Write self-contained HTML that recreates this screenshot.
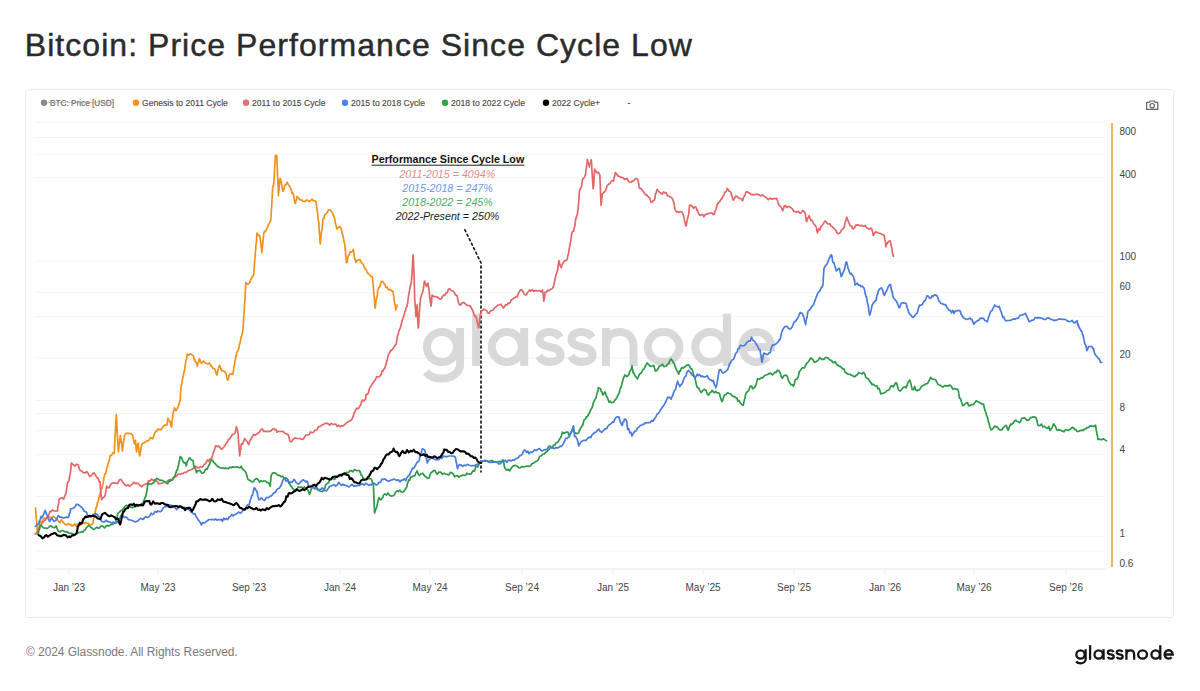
<!DOCTYPE html>
<html><head><meta charset="utf-8"><style>
html,body{margin:0;padding:0;background:#fff;width:1200px;height:691px;overflow:hidden}
svg{display:block;font-family:"Liberation Sans",sans-serif}
.grid line{stroke:#f3f3f3;stroke-width:1}
.xl text{font-size:10px;fill:#444}
.yl text{font-size:10px;fill:#444}
.lg text{font-size:8.6px;fill:#4a4a4a;stroke:#4a4a4a;stroke-width:0.15}
.tick{stroke:#efefef;stroke-width:1}
.ln{fill:none;stroke-linejoin:round;stroke-linecap:round}
</style></head><body>
<svg width="1200" height="691" viewBox="0 0 1200 691">
<text x="24.8" y="56.4" font-size="32" fill="#2b2b2b" stroke="#2b2b2b" stroke-width="0.45" letter-spacing="1.045">Bitcoin: Price Performance Since Cycle Low</text>
<rect x="25.5" y="89.5" width="1148" height="528" rx="3" fill="#fff" stroke="#e9e9e9" stroke-width="1"/>
<g class="lg"><circle cx="44" cy="102.8" r="3.2" fill="#8a8a8a"/><text x="50" y="105.8" textLength="64" lengthAdjust="spacingAndGlyphs" style="fill:#6a6a6a;stroke:#6a6a6a">BTC: Price [USD]</text><line x1="47" y1="102.6" x2="114" y2="102.6" stroke="#9a9a9a" stroke-width="0.6"/><circle cx="136" cy="102.8" r="3.2" fill="#f5931e"/><text x="142" y="105.8">Genesis to 2011 Cycle</text><circle cx="246" cy="102.8" r="3.2" fill="#ec6e6e"/><text x="252" y="105.8">2011 to 2015 Cycle</text><circle cx="345" cy="102.8" r="3.2" fill="#4a86e8"/><text x="351" y="105.8">2015 to 2018 Cycle</text><circle cx="445" cy="102.8" r="3.2" fill="#2ea84a"/><text x="451" y="105.8">2018 to 2022 Cycle</text><circle cx="546" cy="102.8" r="3.2" fill="#000000"/><text x="552" y="105.8">2022 Cycle+</text><text x="627.5" y="105.5">-</text></g>
<g fill="none" stroke="#666" stroke-width="1.2" stroke-linejoin="round">
<path d="M1146.6,102.4 L1149.3,102.4 L1150,101 L1154.4,101 L1155.1,102.4 L1157.8,102.4 L1157.8,109.4 L1146.6,109.4 Z"/>
<circle cx="1152.2" cy="105.7" r="2.2"/>
</g>
<g class="grid"><line x1="36" y1="122.4" x2="1104" y2="122.4" /><line x1="36" y1="137.5" x2="1104" y2="137.5" /><line x1="36" y1="154.0" x2="1104" y2="154.0" /><line x1="36" y1="177.4" x2="1104" y2="177.4" /><line x1="36" y1="261.2" x2="1104" y2="261.2" /><line x1="36" y1="292.3" x2="1104" y2="292.3" /><line x1="36" y1="316.5" x2="1104" y2="316.5" /><line x1="36" y1="358.1" x2="1104" y2="358.1" /><line x1="36" y1="400.3" x2="1104" y2="400.3" /><line x1="36" y1="413.5" x2="1104" y2="413.5" /><line x1="36" y1="430.7" x2="1104" y2="430.7" /><line x1="36" y1="454.7" x2="1104" y2="454.7" /><line x1="36" y1="496.4" x2="1104" y2="496.4" /><line x1="36" y1="536.7" x2="1104" y2="536.7" /><line x1="36" y1="551.0" x2="1104" y2="551.0" /></g>
<g fill="none" stroke="#d9d9d9" stroke-width="8">
<circle cx="441.9" cy="347" r="15"/><path d="M460.1,328 V364 A18.2,14.6 0 0 1 441.9,378.6 C435,378.6 429.5,376.5 426,372"/>
<path d="M476.1,313.7 V366"/>
<circle cx="506.8" cy="347" r="15"/><path d="M524.2,328 V366"/>
<path d="M560.2,337.5 C557.5,333.5 553,332 549.5,332 C543.5,332 539.5,335 539.5,339.5 C539.5,344.5 544,346 550,347 C556.5,348 560.6,350.5 560.6,355 C560.6,359.5 556,362 550,362 C545,362 541,359.5 538.8,356"/>
<path d="M592.2,337.5 C589.5,333.5 585,332 581.5,332 C575.5,332 571.5,335 571.5,339.5 C571.5,344.5 576,346 582,347 C588.5,348 592.6,350.5 592.6,355 C592.6,359.5 588,362 582,362 C577,362 573,359.5 570.8,356"/>
<path d="M605.9,328 V366 M605.9,347 C605.9,337 612,332 619.7,332 C627.5,332 633.5,337 633.5,347 V366"/>
<ellipse cx="663.6" cy="347" rx="15.8" ry="15"/>
<circle cx="710.3" cy="347" r="15"/><path d="M726.9,313.7 V366"/>
<path d="M742.8,347 H771.2 A14.5,15 0 1 0 767.5,357"/>
</g>
<line x1="36" y1="569" x2="1107" y2="569" stroke="#e6e6e6" stroke-width="1"/>
<g class="xl"><text x="69" y="590.5" text-anchor="middle">Jan &#8217;23</text><line x1="69" y1="569" x2="69" y2="575" class="tick"/><text x="158" y="590.5" text-anchor="middle">May &#8217;23</text><line x1="158" y1="569" x2="158" y2="575" class="tick"/><text x="249" y="590.5" text-anchor="middle">Sep &#8217;23</text><line x1="249" y1="569" x2="249" y2="575" class="tick"/><text x="340" y="590.5" text-anchor="middle">Jan &#8217;24</text><line x1="340" y1="569" x2="340" y2="575" class="tick"/><text x="430" y="590.5" text-anchor="middle">May &#8217;24</text><line x1="430" y1="569" x2="430" y2="575" class="tick"/><text x="522" y="590.5" text-anchor="middle">Sep &#8217;24</text><line x1="522" y1="569" x2="522" y2="575" class="tick"/><text x="613" y="590.5" text-anchor="middle">Jan &#8217;25</text><line x1="613" y1="569" x2="613" y2="575" class="tick"/><text x="703" y="590.5" text-anchor="middle">May &#8217;25</text><line x1="703" y1="569" x2="703" y2="575" class="tick"/><text x="794" y="590.5" text-anchor="middle">Sep &#8217;25</text><line x1="794" y1="569" x2="794" y2="575" class="tick"/><text x="885" y="590.5" text-anchor="middle">Jan &#8217;26</text><line x1="885" y1="569" x2="885" y2="575" class="tick"/><text x="974" y="590.5" text-anchor="middle">May &#8217;26</text><line x1="974" y1="569" x2="974" y2="575" class="tick"/><text x="1066" y="590.5" text-anchor="middle">Sep &#8217;26</text><line x1="1066" y1="569" x2="1066" y2="575" class="tick"/></g>
<line x1="1112" y1="123" x2="1112" y2="567" stroke="#e8a33a" stroke-width="1.6"/>
<g class="yl"><text x="1119.5" y="135.3">800</text><text x="1119.5" y="177.5">400</text><text x="1119.5" y="259.5">100</text><text x="1119.5" y="290.3">60</text><text x="1119.5" y="357.5">20</text><text x="1119.5" y="411.4">8</text><text x="1119.5" y="453.0">4</text><text x="1119.5" y="536.9">1</text><text x="1119.5" y="567.0">0.6</text></g>
<path class="ln" d="M464.9,229.8 L481,262.8 L481,472" stroke="#111" stroke-width="1.6" stroke-dasharray="2,3"/>
<path class="ln" d="M35.4,508.0 L35.6,508.6 L35.8,511.2 L36.0,514.6 L36.2,516.6 L36.3,518.9 L36.5,519.7 L36.7,522.2 L36.9,524.5 L37.1,527.9 L37.2,530.1 L37.4,532.1 L37.6,533.9 L38.1,531.0 L38.5,529.5 L39.0,529.0 L39.4,524.8 L39.9,520.8 L40.3,522.1 L41.6,522.2 L42.8,520.7 L44.1,518.1 L45.6,518.1 L47.2,517.6 L48.7,516.6 L50.2,517.7 L51.7,517.7 L53.1,516.4 L54.4,517.3 L55.8,518.1 L57.1,519.5 L58.5,521.6 L59.9,522.7 L61.2,519.5 L62.6,521.9 L63.9,523.2 L65.3,524.6 L66.6,525.0 L68.0,523.5 L69.4,524.4 L70.7,524.6 L72.1,526.1 L73.4,525.2 L74.8,524.0 L76.1,526.0 L77.5,524.1 L78.9,524.6 L80.2,525.3 L81.6,524.3 L82.9,522.2 L84.3,523.7 L85.6,522.4 L87.0,523.1 L88.4,523.5 L89.7,524.6 L91.3,524.8 L93.0,523.7 L93.3,520.5 L93.7,517.7 L94.1,515.8 L94.5,515.1 L95.0,513.4 L95.5,510.5 L96.0,507.6 L96.5,507.8 L97.0,504.8 L97.5,502.6 L98.0,502.4 L98.5,500.1 L99.0,497.3 L99.4,496.4 L99.9,494.0 L100.4,493.4 L100.9,490.8 L101.4,487.9 L101.9,488.7 L102.4,487.1 L102.9,484.3 L103.4,481.8 L103.8,478.4 L104.3,476.4 L104.8,473.9 L105.3,473.7 L105.8,473.1 L106.3,470.5 L106.8,468.0 L107.3,466.7 L107.8,464.8 L108.2,463.5 L108.7,461.9 L109.2,460.1 L109.7,458.5 L110.2,455.5 L111.5,455.4 L112.9,452.6 L114.2,453.4 L114.4,450.8 L114.5,449.3 L114.6,447.0 L114.7,445.2 L114.8,441.3 L114.9,439.4 L115.0,437.1 L115.1,436.0 L115.3,434.2 L115.4,431.7 L115.5,429.3 L115.6,426.8 L115.7,425.0 L115.8,423.6 L115.9,422.1 L116.0,419.6 L116.2,416.3 L116.3,414.7 L116.4,417.2 L116.5,418.3 L116.6,420.6 L116.8,420.9 L116.9,425.1 L117.0,427.6 L117.1,429.3 L117.2,431.5 L117.3,434.5 L117.5,436.5 L117.6,438.8 L117.7,440.9 L117.8,441.8 L117.9,442.8 L118.1,446.9 L118.2,448.6 L118.3,451.8 L118.6,450.9 L118.8,447.8 L119.1,445.0 L119.3,442.6 L119.6,442.5 L119.8,440.0 L120.1,437.4 L120.3,435.6 L120.6,436.9 L120.8,438.6 L121.1,440.4 L121.3,442.8 L121.6,443.9 L121.8,446.0 L122.1,448.8 L122.4,451.2 L122.6,447.8 L122.9,446.9 L123.1,444.2 L123.4,442.5 L123.6,441.6 L123.9,439.6 L124.1,439.1 L124.4,435.6 L125.9,433.3 L127.4,433.3 L128.9,433.4 L130.5,433.5 L132.5,435.1 L133.0,436.7 L133.5,440.0 L134.0,442.0 L134.5,443.9 L135.5,440.4 L135.7,443.1 L135.9,445.1 L136.1,448.7 L136.3,449.3 L136.5,451.9 L136.9,450.3 L137.2,448.0 L137.6,445.1 L138.0,443.1 L138.2,443.4 L138.5,446.6 L138.8,448.1 L139.0,451.8 L139.3,454.1 L139.6,455.8 L140.0,455.0 L140.4,452.3 L140.8,450.7 L141.2,447.2 L141.9,444.5 L142.6,443.6 L144.6,442.5 L146.7,440.9 L148.7,440.7 L149.7,438.6 L150.7,437.7 L152.7,438.6 L153.4,436.9 L154.1,435.0 L154.8,433.1 L155.8,431.2 L156.8,431.0 L157.8,429.1 L159.3,429.4 L160.8,430.0 L161.9,428.1 L162.9,427.1 L163.9,425.4 L165.4,425.2 L166.9,425.0 L167.2,423.1 L167.4,421.9 L167.7,420.2 L167.9,418.0 L169.0,421.0 L170.0,421.3 L170.5,423.2 L171.0,426.2 L171.6,427.1 L171.8,424.9 L172.0,421.5 L172.2,420.0 L172.4,419.2 L172.6,418.1 L172.8,416.2 L173.0,413.5 L173.5,411.2 L174.0,410.6 L174.4,407.8 L175.2,408.9 L176.0,410.7 L176.7,409.4 L177.4,408.4 L178.1,406.5 L178.7,405.4 L179.4,402.3 L180.1,400.7 L180.3,399.4 L180.4,396.7 L180.6,392.5 L180.8,390.6 L180.9,389.3 L181.1,386.8 L181.5,385.3 L181.9,383.5 L182.3,381.1 L182.7,377.9 L183.1,376.5 L183.5,375.1 L183.8,372.3 L184.2,371.4 L184.5,370.8 L184.8,368.5 L185.2,364.9 L185.6,363.3 L186.0,360.1 L186.4,359.6 L186.8,356.7 L187.2,354.2 L188.7,355.2 L190.2,353.8 L191.7,354.8 L193.3,355.5 L193.8,357.7 L194.3,360.0 L194.8,359.5 L195.3,362.0 L196.3,362.3 L197.3,366.2 L197.8,363.3 L198.3,362.2 L198.8,362.0 L199.3,358.8 L200.0,360.0 L200.7,361.7 L201.4,363.5 L203.4,361.0 L204.9,362.7 L206.4,363.6 L208.0,363.9 L209.5,362.9 L210.5,365.1 L211.5,366.0 L213.0,368.5 L214.5,368.5 L215.2,370.5 L215.9,372.5 L216.6,374.8 L217.2,374.8 L217.8,370.7 L218.4,369.0 L219.0,366.6 L219.6,365.4 L220.6,367.9 L221.6,370.8 L222.6,370.4 L224.2,371.4 L225.7,372.9 L226.2,374.3 L226.7,376.7 L227.2,378.7 L227.7,380.2 L228.4,379.4 L229.1,375.0 L229.7,374.1 L231.3,373.7 L232.8,374.4 L233.1,371.8 L233.5,371.2 L233.8,367.8 L234.1,366.2 L234.5,365.2 L234.8,362.0 L235.2,359.8 L235.6,357.8 L236.0,355.4 L236.4,355.8 L236.8,352.3 L237.8,351.0 L238.9,348.1 L239.3,345.1 L239.7,343.7 L240.1,342.9 L240.5,340.4 L240.9,338.3 L241.4,336.3 L241.9,335.2 L242.4,332.8 L242.9,330.2 L243.0,328.9 L243.2,326.7 L243.3,324.2 L243.5,321.5 L243.6,319.5 L243.7,316.9 L243.9,316.1 L244.0,313.4 L244.2,311.8 L244.3,308.7 L244.4,307.0 L244.6,303.2 L244.7,301.0 L244.9,300.5 L245.0,298.4 L245.1,294.1 L245.3,292.3 L245.4,290.5 L245.6,288.1 L245.7,285.1 L245.8,282.6 L246.0,283.0 L248.2,284.2 L249.1,283.2 L250.0,281.9 L250.9,279.2 L251.8,277.8 L252.8,276.3 L253.7,274.4 L253.8,272.2 L254.0,270.3 L254.2,268.5 L254.3,266.1 L254.5,263.7 L254.6,261.9 L254.8,259.1 L255.0,258.4 L255.1,256.5 L255.3,254.2 L255.4,251.8 L255.6,250.0 L255.8,247.8 L255.9,245.0 L256.1,243.5 L256.3,242.7 L256.5,241.5 L256.6,238.6 L256.8,235.1 L257.0,233.1 L258.4,235.7 L259.7,235.3 L260.0,237.1 L260.3,239.4 L260.5,241.1 L260.8,243.0 L261.1,245.5 L261.4,248.1 L261.6,250.5 L261.9,252.7 L262.1,248.8 L262.4,247.9 L262.6,245.2 L262.8,243.4 L263.0,240.1 L263.2,239.2 L263.4,237.7 L263.6,235.3 L263.8,233.3 L264.7,231.1 L265.6,231.5 L266.5,229.2 L267.4,227.6 L268.2,224.9 L269.1,223.8 L269.9,222.1 L270.7,220.9 L270.8,218.9 L271.0,217.9 L271.1,216.9 L271.2,213.1 L271.4,210.3 L271.5,207.8 L271.6,206.6 L271.7,205.5 L271.9,203.3 L272.0,200.1 L272.1,197.8 L272.3,194.4 L272.4,192.3 L272.5,190.4 L272.6,188.1 L273.1,185.6 L273.6,184.5 L274.0,181.3 L274.1,179.4 L274.2,176.9 L274.4,172.9 L274.5,172.2 L274.6,169.0 L274.7,165.9 L274.8,165.0 L274.9,163.4 L275.1,161.8 L275.2,159.9 L275.3,158.6 L275.4,155.4 L276.8,155.6 L276.9,158.5 L276.9,158.9 L277.0,161.4 L277.1,164.0 L277.2,166.3 L277.3,168.2 L277.4,170.1 L277.5,173.6 L277.6,175.5 L277.6,176.3 L277.7,179.6 L277.8,181.5 L277.9,183.4 L278.0,185.2 L278.1,185.0 L278.2,185.7 L278.2,188.9 L278.3,193.2 L278.4,195.6 L278.6,192.2 L278.8,191.1 L279.0,190.2 L279.2,186.1 L279.4,183.3 L279.6,180.0 L279.8,179.0 L280.3,178.5 L280.9,180.8 L281.4,184.0 L282.0,186.6 L282.5,189.4 L283.1,191.2 L283.9,189.4 L284.7,185.7 L285.6,185.0 L286.4,183.8 L287.2,182.2 L288.2,184.5 L289.3,185.6 L290.3,187.9 L291.3,189.6 L291.9,193.1 L292.5,192.6 L293.1,193.5 L293.7,195.8 L294.3,199.4 L294.9,202.7 L295.5,203.4 L295.9,201.1 L296.4,200.2 L296.8,196.5 L298.0,197.5 L299.2,199.0 L300.4,199.9 L301.6,199.9 L302.7,201.2 L303.9,201.4 L305.1,201.7 L306.5,200.0 L307.8,200.4 L309.2,201.6 L310.6,200.5 L312.0,199.2 L313.3,200.8 L314.7,200.7 L316.1,201.8 L316.4,204.3 L316.6,206.3 L316.9,209.0 L317.2,210.8 L317.5,212.3 L317.7,214.8 L318.0,217.4 L318.3,220.5 L318.6,220.5 L318.8,222.3 L319.0,226.4 L319.1,228.0 L319.2,231.2 L319.4,232.7 L319.5,233.7 L319.7,235.1 L319.8,237.0 L319.9,240.5 L320.1,241.0 L320.2,244.0 L320.4,241.9 L320.7,240.2 L320.9,237.7 L321.1,235.4 L321.4,232.9 L321.6,231.0 L321.8,231.1 L322.0,228.9 L322.3,226.7 L322.5,225.0 L322.7,222.4 L323.0,219.2 L323.9,218.3 L324.8,214.6 L325.7,213.9 L327.1,212.9 L328.5,209.9 L329.8,210.0 L330.9,210.8 L331.9,212.0 L332.9,214.2 L334.0,216.6 L334.4,217.5 L334.9,219.9 L335.3,223.1 L335.8,224.6 L336.2,225.7 L336.7,229.0 L338.1,227.8 L339.5,226.3 L340.8,227.6 L341.3,228.7 L341.7,231.3 L342.2,233.2 L342.7,235.1 L343.1,236.2 L343.6,239.2 L344.0,241.4 L344.5,243.4 L344.9,244.7 L345.1,248.8 L345.3,249.7 L345.5,250.9 L345.6,254.0 L345.8,255.3 L346.0,257.2 L346.2,260.4 L346.3,262.6 L347.0,262.4 L347.7,258.0 L348.4,255.4 L349.1,254.9 L350.1,251.6 L351.1,252.1 L352.2,251.7 L353.2,249.5 L353.7,251.5 L354.1,254.8 L354.6,257.6 L355.0,259.6 L355.5,259.8 L355.9,262.3 L357.3,260.6 L358.7,259.9 L360.1,259.6 L361.1,262.0 L362.1,263.5 L363.2,264.3 L364.2,266.9 L365.2,268.6 L366.3,270.0 L367.3,272.7 L368.3,273.5 L369.7,274.9 L371.1,276.3 L372.4,277.2 L372.6,279.1 L372.8,281.4 L373.0,283.5 L373.2,285.6 L373.4,287.7 L373.6,291.3 L373.8,292.5 L374.0,294.1 L374.2,296.5 L374.4,299.7 L374.6,301.4 L374.8,304.1 L375.0,305.9 L375.2,308.1 L375.5,306.4 L375.8,302.5 L376.1,299.3 L376.4,299.8 L376.7,296.8 L377.0,296.7 L377.3,294.9 L377.6,291.0 L377.9,290.0 L378.8,287.8 L379.6,286.9 L380.4,284.6 L381.2,281.9 L382.1,281.3 L383.0,282.0 L384.0,283.5 L385.0,284.8 L386.0,287.4 L387.0,287.1 L388.0,289.5 L388.9,289.9 L390.3,289.3 L391.7,290.9 L393.1,291.4 L393.4,294.5 L393.7,295.7 L394.0,299.1 L394.3,301.4 L394.6,302.4 L394.9,304.7 L395.2,304.6 L395.5,307.3 L395.8,310.1 L396.3,307.7 L396.7,307.2 L397.2,305.0" stroke="#f3921a" stroke-width="1.7"/>
<path class="ln" d="M35.1,534.1 L36.0,533.3 L36.9,532.9 L37.8,530.5 L38.7,528.9 L39.8,526.5 L40.9,525.3 L41.9,523.6 L43.0,522.1 L44.1,520.9 L45.2,520.1 L46.7,518.3 L48.1,516.5 L49.1,513.9 L50.0,511.3 L51.0,511.8 L52.4,509.9 L53.9,510.7 L55.7,511.2 L57.5,510.9 L57.8,507.5 L58.1,506.1 L58.4,505.1 L58.7,503.5 L59.0,499.3 L61.2,497.9 L62.4,497.9 L63.6,499.3 L64.7,496.2 L65.6,494.4 L66.4,491.3 L66.7,488.1 L67.1,485.3 L67.5,482.5 L69.1,480.5 L69.4,477.6 L69.6,475.7 L69.9,475.1 L70.2,473.7 L70.5,471.9 L70.8,469.3 L71.0,466.7 L71.3,463.7 L71.6,463.0 L72.7,464.5 L73.8,465.1 L74.9,466.1 L76.6,464.2 L78.3,464.7 L79.1,468.3 L79.9,470.2 L81.0,470.7 L82.1,471.3 L83.3,472.7 L84.9,473.0 L86.6,471.7 L87.7,472.6 L88.8,474.9 L89.9,476.5 L91.0,475.7 L92.1,474.7 L93.2,473.0 L94.3,473.1 L95.5,475.3 L96.6,477.0 L97.4,478.0 L98.2,478.6 L99.1,481.3 L99.9,482.7 L100.1,481.9 L100.3,485.0 L100.5,489.0 L100.7,492.3 L100.9,494.7 L101.1,495.6 L101.4,497.9 L101.6,499.6 L102.7,497.8 L103.8,497.4 L104.9,496.0 L105.2,494.6 L105.6,493.0 L105.9,491.4 L106.2,489.4 L106.6,486.4 L107.8,487.6 L109.0,487.9 L110.3,485.5 L111.5,483.3 L113.2,483.1 L114.9,482.9 L116.5,483.3 L117.6,483.6 L118.8,481.2 L119.9,479.6 L121.0,479.4 L122.1,481.1 L123.2,482.8 L124.3,483.8 L125.4,485.3 L126.5,485.9 L128.2,484.8 L129.8,486.3 L131.2,484.7 L132.5,483.9 L133.8,482.2 L135.2,483.4 L136.5,483.2 L137.8,483.3 L139.2,484.4 L140.5,485.8 L141.8,486.8 L143.2,485.0 L144.5,484.5 L145.8,483.9 L147.2,484.0 L148.5,480.9 L149.8,481.3 L151.5,479.1 L153.1,480.4 L154.8,479.7 L156.1,481.2 L157.3,481.4 L158.6,483.8 L159.8,483.6 L161.5,483.5 L163.1,482.7 L164.5,482.2 L165.8,482.2 L167.1,481.1 L168.5,480.2 L169.8,479.6 L171.1,479.8 L172.5,480.1 L173.8,478.1 L175.1,476.6 L176.4,476.5 L177.8,474.4 L179.1,474.2 L180.4,474.1 L181.8,473.6 L183.1,473.5 L184.4,472.4 L185.8,472.4 L187.1,471.7 L188.4,470.7 L189.8,470.0 L191.1,469.8 L192.4,469.2 L193.8,467.8 L195.1,466.2 L196.4,466.7 L197.7,468.0 L199.1,467.7 L200.4,466.5 L201.7,467.2 L203.1,466.2 L204.2,464.4 L205.3,463.7 L206.4,462.3 L207.5,459.8 L208.6,461.4 L209.7,459.4 L210.6,458.8 L211.4,458.9 L212.2,456.9 L213.1,453.6 L213.9,451.1 L214.7,449.3 L215.6,445.9 L216.4,446.0 L217.6,446.7 L218.9,446.1 L220.1,447.4 L221.4,449.3 L222.4,448.8 L223.4,447.5 L224.4,446.5 L225.4,444.6 L226.4,443.2 L227.4,442.0 L228.4,439.4 L229.4,439.4 L230.4,437.7 L231.4,436.1 L232.5,434.6 L233.6,434.5 L234.7,433.4 L235.2,432.5 L235.8,430.0 L236.4,426.7 L236.9,428.9 L237.5,430.1 L238.0,433.3 L238.2,435.6 L238.3,438.6 L238.5,439.7 L238.6,441.7 L238.8,444.3 L238.9,445.5 L239.1,447.8 L239.2,449.9 L239.4,452.4 L239.5,453.2 L239.7,456.0 L240.0,452.1 L240.2,450.8 L240.5,448.4 L240.8,449.5 L241.1,446.0 L241.3,443.8 L242.5,444.1 L243.6,441.4 L244.7,438.6 L245.7,439.7 L246.8,441.3 L247.8,442.9 L248.7,444.5 L249.6,441.5 L250.5,439.6 L251.4,438.7 L252.3,436.5 L253.8,434.5 L255.3,435.2 L256.8,433.9 L257.9,433.2 L259.1,432.5 L260.2,431.0 L261.3,429.1 L262.4,429.2 L263.9,431.4 L265.4,431.2 L266.9,431.7 L268.4,431.4 L269.9,431.5 L271.4,430.6 L272.5,429.0 L273.6,428.5 L274.8,429.7 L275.9,429.3 L277.0,432.2 L278.5,431.3 L280.0,431.5 L281.5,431.4 L283.2,431.6 L284.8,433.2 L286.5,433.7 L288.2,434.8 L289.0,437.2 L289.7,440.0 L290.4,441.6 L291.6,441.6 L292.7,439.7 L293.8,438.7 L295.3,437.9 L296.8,438.5 L298.3,438.5 L299.8,438.5 L301.3,439.2 L302.8,439.5 L303.9,437.9 L305.0,436.4 L306.1,435.0 L307.6,435.0 L309.1,434.7 L310.6,431.9 L312.1,432.7 L313.6,432.2 L315.1,430.0 L316.8,429.9 L318.5,426.7 L320.2,426.5 L321.8,425.0 L323.3,424.7 L324.8,423.4 L326.3,423.4 L328.0,423.7 L329.7,425.2 L331.2,423.4 L332.7,424.4 L334.2,424.4 L335.7,424.0 L337.2,426.6 L338.7,425.1 L340.1,426.7 L341.6,425.6 L343.1,426.0 L344.6,424.6 L346.1,423.4 L347.6,422.1 L349.1,420.9 L350.6,420.6 L352.1,418.9 L352.9,416.6 L353.6,415.2 L354.3,412.6 L355.1,411.7 L355.8,409.5 L356.6,408.2 L358.3,408.7 L360.0,405.9 L360.7,405.0 L361.4,402.1 L362.2,400.2 L363.9,400.9 L365.6,398.9 L366.2,394.3 L366.9,394.0 L367.6,394.3 L368.3,393.0 L369.0,390.4 L369.6,388.1 L370.6,386.6 L371.5,385.1 L372.4,383.6 L373.3,382.7 L374.3,380.8 L375.4,379.7 L376.6,376.6 L377.7,376.8 L379.5,376.7 L381.2,374.3 L382.1,370.8 L382.9,371.1 L383.8,369.2 L384.7,368.5 L385.3,366.0 L385.8,365.5 L386.4,362.7 L387.0,360.6 L387.6,357.9 L388.1,355.9 L388.7,354.3 L389.3,353.4 L390.5,350.8 L391.6,350.0 L392.8,349.2 L393.9,347.1 L395.1,345.2 L396.2,344.2 L396.6,341.4 L397.0,339.3 L397.4,336.8 L397.8,335.0 L398.2,334.4 L398.6,332.4 L399.1,330.2 L399.7,329.1 L400.3,328.1 L400.9,325.7 L401.5,323.3 L402.0,321.7 L402.6,319.0 L403.2,317.9 L403.8,315.8 L404.4,314.3 L404.9,311.5 L405.5,310.7 L406.1,307.8 L406.7,306.8 L407.0,306.6 L407.3,304.2 L407.7,303.1 L408.0,300.0 L408.3,297.8 L408.7,294.9 L409.0,293.3 L409.4,291.6 L409.8,288.9 L410.1,287.3 L410.5,285.2 L410.9,284.5 L411.3,282.0 L411.5,281.1 L411.6,277.5 L411.8,276.0 L412.0,274.8 L412.1,271.4 L412.3,268.4 L412.5,265.7 L412.6,264.6 L412.7,260.8 L412.9,258.7 L413.0,257.5 L413.1,254.8 L413.3,257.7 L413.4,259.4 L413.5,260.9 L413.6,264.5 L413.7,267.2 L413.8,268.3 L413.9,271.2 L414.0,273.3 L414.1,275.0 L414.1,279.4 L414.2,280.2 L414.3,283.0 L414.3,284.5 L414.4,286.4 L414.5,289.6 L414.5,292.0 L414.6,293.8 L414.6,296.2 L414.7,298.2 L414.8,299.8 L414.9,301.4 L415.1,303.9 L415.3,307.8 L415.4,307.1 L415.6,311.5 L415.8,314.8 L415.9,316.6 L416.2,314.7 L416.4,310.9 L416.6,311.0 L416.9,306.9 L417.1,304.9 L417.2,307.7 L417.3,308.9 L417.4,311.0 L417.5,313.5 L417.6,315.6 L417.7,318.8 L417.8,322.3 L417.9,321.4 L418.0,323.5 L418.1,327.1 L418.2,328.0 L418.4,326.9 L418.6,326.4 L418.7,323.2 L418.9,320.6 L419.1,316.4 L419.2,314.0 L419.4,311.7 L419.6,310.7 L419.7,307.7 L419.9,305.6 L420.1,303.2 L420.2,302.1 L420.4,301.3 L420.6,298.1 L421.1,296.7 L421.7,294.4 L422.3,293.6 L422.9,291.1 L423.3,289.4 L423.7,286.5 L424.1,283.1 L424.5,281.1 L425.4,282.9 L426.3,286.4 L427.2,285.1 L428.0,283.1 L428.2,285.4 L428.5,287.1 L428.8,288.6 L429.1,290.2 L429.4,293.3 L429.6,295.6 L429.9,298.3 L430.2,299.5 L430.4,302.6 L430.7,303.5 L431.0,306.1 L431.2,304.2 L431.4,303.1 L431.7,300.5 L431.9,297.1 L432.1,295.1 L433.9,296.7 L435.6,296.6 L437.3,296.9 L439.1,298.6 L440.2,299.2 L441.4,299.0 L442.5,296.3 L443.7,295.1 L444.9,295.5 L446.0,292.9 L447.2,292.7 L448.3,289.5 L449.5,288.6 L451.2,290.5 L453.0,291.2 L454.1,292.2 L455.3,294.7 L456.4,295.5 L457.0,295.4 L457.6,298.3 L458.2,301.2 L458.8,303.8 L460.5,305.2 L462.2,302.5 L464.0,302.6 L465.7,304.1 L467.4,305.5 L469.2,305.7 L470.3,305.8 L471.5,308.4 L472.6,309.9 L473.5,312.9 L474.4,315.5 L475.2,316.8 L476.1,316.5 L476.5,318.4 L476.9,320.7 L477.3,321.8 L477.7,324.0 L478.0,325.6 L478.4,328.0 L478.8,327.4 L479.1,325.6 L479.4,323.1 L479.7,319.5 L480.1,316.6 L480.4,314.1 L480.7,313.4 L481.8,310.6 L482.9,310.2 L483.9,309.2 L485.2,310.0 L486.5,310.5 L487.8,312.9 L489.1,313.3 L490.4,310.8 L491.7,310.6 L493.0,310.2 L494.3,308.2 L495.6,307.0 L496.9,306.1 L498.2,305.0 L499.5,304.8 L500.8,304.2 L502.1,305.9 L503.4,308.1 L504.7,306.1 L506.0,304.6 L507.3,304.8 L508.3,303.0 L509.3,303.3 L510.3,302.5 L511.2,300.0 L512.6,299.1 L513.9,298.0 L515.2,297.4 L516.5,296.5 L517.4,296.8 L518.4,293.6 L519.4,291.7 L520.4,289.9 L521.7,289.8 L523.0,291.4 L524.3,294.3 L525.6,294.8 L526.5,294.9 L527.5,292.4 L528.5,291.6 L529.5,289.9 L530.8,291.0 L532.1,289.6 L533.4,291.1 L534.7,290.8 L536.0,290.7 L537.3,290.8 L538.6,291.0 L539.9,290.6 L541.2,292.0 L542.5,290.0 L542.8,291.9 L543.0,293.4 L543.3,295.0 L543.5,298.0 L543.8,301.2 L544.1,299.2 L544.5,297.9 L544.8,293.8 L545.1,292.2 L546.4,292.3 L547.7,290.1 L549.0,290.7 L550.3,289.6 L551.3,288.9 L552.3,288.4 L553.2,287.3 L554.2,283.5 L554.7,280.9 L555.3,277.6 L555.8,276.1 L556.3,273.9 L556.8,272.6 L557.3,270.6 L557.9,268.9 L558.4,264.4 L558.9,260.7 L559.4,262.2 L560.0,264.9 L560.6,266.4 L561.2,267.5 L561.9,265.3 L562.6,263.9 L563.3,262.5 L564.6,260.7 L565.9,260.7 L567.2,259.6 L567.7,256.1 L568.1,255.1 L568.5,253.4 L569.0,250.0 L569.4,247.8 L569.8,246.4 L570.1,244.1 L570.5,242.8 L570.8,240.5 L571.1,238.1 L571.4,236.3 L571.7,233.5 L572.7,231.4 L573.8,231.2 L574.2,227.9 L574.6,227.0 L575.1,224.5 L575.5,220.4 L575.9,217.9 L576.4,217.8 L576.7,215.8 L577.0,215.0 L577.4,214.0 L577.7,211.0 L578.1,209.0 L578.4,205.2 L578.6,203.4 L578.8,201.1 L579.0,198.3 L579.1,195.6 L579.3,193.2 L579.5,190.8 L580.2,189.5 L580.9,187.7 L581.6,186.1 L582.0,183.6 L582.4,180.0 L582.9,179.0 L583.7,178.2 L584.6,177.0 L585.5,174.1 L585.7,173.7 L586.0,169.5 L586.2,168.8 L586.5,166.6 L586.8,164.3 L587.0,163.1 L587.3,159.4 L587.8,161.1 L588.3,163.6 L588.9,164.4 L589.4,167.1 L589.8,163.6 L590.3,163.4 L590.7,162.2 L591.2,159.8 L591.4,161.5 L591.5,163.0 L591.7,164.5 L591.8,168.0 L592.0,170.8 L592.2,173.9 L592.3,176.2 L592.5,178.1 L592.6,180.6 L592.8,182.4 L593.0,187.1 L593.1,188.5 L593.3,188.7 L593.4,186.8 L593.6,185.7 L593.7,184.2 L593.9,182.9 L594.0,178.6 L594.1,176.9 L594.3,173.9 L594.4,173.7 L594.6,169.1 L595.9,171.1 L597.2,172.9 L598.5,172.3 L599.8,174.9 L599.9,176.3 L600.0,178.3 L600.1,181.1 L600.2,182.7 L600.3,184.7 L600.3,186.9 L600.4,188.5 L600.5,191.8 L600.6,195.4 L600.7,197.7 L600.8,199.5 L600.9,201.0 L601.0,203.4 L601.1,205.5 L601.4,203.4 L601.6,201.0 L601.9,198.2 L602.1,196.4 L602.4,193.9 L603.7,192.7 L605.0,191.1 L605.7,190.2 L606.4,188.6 L607.1,185.6 L608.6,184.3 L610.2,183.2 L611.5,180.8 L612.8,180.5 L613.5,181.2 L614.1,177.8 L614.8,175.4 L615.4,172.6 L616.7,174.0 L618.0,176.0 L619.3,176.3 L620.6,177.2 L621.9,177.5 L623.2,177.8 L624.5,179.4 L625.8,178.9 L627.1,178.5 L628.4,181.1 L629.7,182.0 L631.0,182.1 L632.3,181.1 L633.6,180.6 L634.9,179.2 L636.2,178.6 L637.6,179.2 L638.1,180.9 L638.6,183.2 L639.1,186.7 L639.6,188.5 L640.2,188.1 L641.5,189.2 L642.8,190.7 L644.1,192.7 L645.4,194.6 L646.5,194.7 L647.6,196.1 L648.8,197.2 L649.8,197.9 L650.8,201.9 L651.9,202.4 L653.2,200.8 L654.5,200.0 L655.0,197.7 L655.5,193.8 L656.0,193.6 L656.6,191.1 L657.1,189.4 L658.4,191.2 L659.7,192.4 L661.0,193.2 L662.3,194.2 L663.6,191.8 L664.9,193.0 L666.2,192.6 L667.5,195.8 L668.8,196.1 L670.1,197.0 L671.1,197.2 L672.1,198.4 L673.0,200.2 L674.0,202.7 L674.3,205.3 L674.7,207.8 L675.0,209.5 L675.3,210.2 L676.6,212.0 L677.9,211.7 L679.2,212.4 L680.5,211.5 L681.8,212.1 L683.1,214.0 L683.6,216.4 L684.0,217.3 L684.4,220.2 L684.9,221.5 L685.3,223.8 L685.7,225.9 L686.3,225.5 L686.8,222.2 L687.3,219.5 L687.8,217.3 L688.3,215.7 L688.6,214.9 L688.9,212.9 L689.1,209.2 L689.4,207.1 L689.6,205.2 L690.9,205.3 L692.2,206.2 L693.5,208.3 L694.8,206.9 L696.1,207.4 L696.8,210.3 L697.4,209.7 L698.1,212.1 L698.8,214.0 L700.1,215.4 L701.4,214.7 L702.7,214.5 L704.0,216.7 L705.3,214.3 L706.6,214.3 L707.9,213.5 L709.2,213.6 L710.5,213.0 L711.8,212.6 L713.1,214.5 L714.4,214.3 L715.0,211.1 L715.7,209.8 L716.3,208.2 L717.0,205.0 L717.6,204.0 L718.3,202.6 L719.6,202.0 L720.9,199.3 L721.9,198.5 L722.8,196.5 L723.8,195.6 L724.8,192.3 L726.1,191.8 L727.4,188.4 L728.7,190.9 L730.0,191.6 L730.8,192.2 L731.7,195.2 L732.5,198.3 L733.3,200.2 L734.6,198.1 L735.8,196.0 L737.1,196.3 L738.3,197.9 L740.8,198.7 L742.5,200.7 L743.3,197.7 L744.2,196.4 L745.0,194.8 L746.2,191.8 L747.5,191.9 L749.2,192.9 L750.8,194.3 L753.3,194.9 L755.8,194.2 L757.5,194.4 L759.2,194.8 L760.8,196.0 L762.5,194.9 L764.2,196.3 L765.8,197.3 L767.1,198.4 L768.3,199.7 L770.0,198.2 L771.7,199.3 L773.3,198.6 L775.0,198.6 L776.7,198.3 L777.3,200.3 L777.9,202.1 L778.5,203.9 L779.2,205.3 L780.8,206.6 L781.7,208.1 L782.5,210.8 L783.3,209.3 L784.2,206.0 L785.4,205.6 L786.7,207.5 L788.3,206.4 L790.0,207.0 L791.2,207.8 L792.5,209.0 L793.8,211.5 L795.0,211.5 L796.7,212.3 L798.3,211.2 L799.7,213.1 L801.1,213.0 L802.5,210.6 L803.8,211.2 L805.0,212.9 L805.4,214.1 L805.8,217.3 L806.2,220.2 L806.7,221.6 L807.5,218.7 L808.3,217.3 L809.2,215.7 L810.0,218.3 L810.8,220.3 L811.7,220.1 L812.5,221.4 L813.3,222.9 L814.2,224.2 L815.8,226.3 L816.4,227.8 L816.9,230.9 L817.5,232.8 L818.8,228.7 L820.0,230.0 L820.8,226.9 L822.1,225.5 L823.3,223.6 L825.0,220.9 L826.2,222.1 L827.5,223.8 L830.0,223.8 L830.8,225.9 L831.7,226.3 L832.5,227.2 L833.8,228.3 L835.0,229.1 L836.1,230.9 L837.2,233.2 L838.3,233.8 L839.4,233.3 L840.6,232.0 L841.7,229.8 L842.9,228.9 L844.2,227.4 L844.7,224.6 L845.2,222.3 L845.7,221.1 L846.2,219.2 L846.7,217.1 L847.5,219.0 L848.3,221.5 L849.2,223.4 L850.4,226.0 L851.7,226.0 L852.5,228.6 L853.3,229.1 L854.2,227.6 L855.0,227.1 L855.8,225.1 L858.3,224.9 L860.0,225.8 L861.7,225.4 L863.3,226.4 L865.0,225.4 L866.7,227.8 L867.9,228.5 L869.2,229.4 L870.8,228.1 L871.5,228.3 L872.1,230.0 L872.7,232.4 L873.3,235.5 L874.6,233.1 L875.8,231.9 L878.3,233.0 L880.8,233.7 L882.5,234.4 L884.2,235.5 L884.5,237.1 L884.8,239.7 L885.2,241.2 L885.5,242.0 L885.8,246.7 L886.7,244.1 L887.5,243.1 L888.3,241.5 L890.0,240.8 L890.6,242.9 L891.1,245.8 L891.7,247.2 L892.1,250.5 L892.5,253.3 L892.9,254.5 L893.3,256.3" stroke="#e36767" stroke-width="1.7"/>
<path class="ln" d="M37.6,534.1 L38.3,533.5 L38.9,530.4 L39.6,529.0 L40.2,525.2 L40.9,525.0 L42.5,527.1 L44.1,528.1 L45.7,528.1 L47.4,528.5 L49.0,527.0 L50.6,525.6 L52.3,527.0 L53.9,527.7 L55.0,527.3 L56.1,525.8 L56.8,527.6 L57.5,529.4 L58.2,531.1 L59.7,532.0 L61.1,531.0 L62.6,530.5 L64.0,531.2 L65.5,531.9 L66.9,531.7 L68.4,532.8 L69.8,533.5 L71.3,533.2 L72.7,533.9 L74.2,534.5 L75.6,534.6 L77.2,533.6 L78.9,532.4 L80.2,532.5 L81.6,531.8 L82.9,532.2 L84.3,530.1 L85.4,529.7 L86.5,527.7 L87.5,526.5 L88.6,525.4 L89.7,526.1 L90.8,527.3 L92.3,528.3 L93.7,529.5 L95.1,528.6 L96.5,527.4 L97.9,527.9 L99.2,528.3 L100.6,526.4 L101.9,525.7 L103.3,526.7 L104.6,527.9 L106.0,526.0 L107.4,525.2 L108.7,526.1 L110.1,525.2 L111.4,524.3 L112.9,524.4 L114.3,523.0 L115.8,522.9 L116.2,518.1 L116.6,518.7 L117.1,517.2 L117.5,514.9 L117.9,513.4 L119.4,512.2 L120.8,510.7 L122.3,509.9 L123.6,508.7 L124.8,506.3 L126.1,505.3 L127.3,505.7 L128.6,507.2 L129.8,506.6 L131.2,507.4 L132.5,507.6 L133.8,506.9 L135.2,507.0 L136.5,506.5 L137.8,505.5 L139.2,504.9 L140.5,504.7 L141.8,503.5 L143.2,502.8 L143.8,500.8 L144.5,499.0 L145.2,497.2 L145.8,496.2 L146.5,493.3 L146.8,491.5 L147.2,488.8 L147.5,486.0 L147.8,485.0 L148.2,483.2 L149.8,483.9 L151.5,484.0 L153.1,483.1 L154.3,481.9 L155.4,480.2 L156.5,478.4 L158.1,478.8 L159.8,480.3 L161.5,480.2 L162.7,480.6 L164.0,481.4 L165.2,482.2 L166.5,483.2 L167.7,483.7 L169.0,480.8 L170.2,481.2 L171.5,480.1 L172.6,478.8 L173.7,477.1 L174.8,476.5 L175.4,474.4 L176.1,472.1 L176.8,469.9 L177.4,470.0 L178.1,466.2 L178.6,465.7 L179.0,461.8 L179.5,461.1 L180.0,458.4 L180.4,456.5 L181.3,457.6 L182.2,459.2 L183.1,461.7 L184.2,462.9 L185.3,462.7 L186.4,466.0 L187.1,461.7 L187.8,460.7 L188.4,460.0 L189.1,458.4 L189.8,457.8 L191.4,460.0 L193.1,460.6 L193.6,464.6 L194.0,466.7 L194.5,467.6 L195.0,467.9 L195.5,468.9 L195.9,470.0 L196.4,472.7 L197.5,470.8 L198.6,470.8 L199.7,470.1 L200.9,471.9 L202.0,473.2 L203.1,473.1 L204.1,472.4 L205.1,470.1 L206.1,468.9 L207.1,469.3 L208.1,466.8 L208.9,465.2 L209.7,463.9 L210.6,461.3 L211.4,459.8 L212.5,460.2 L213.6,462.4 L214.7,463.2 L215.8,464.4 L216.9,465.7 L218.0,466.6 L219.7,467.6 L221.4,467.9 L223.0,468.1 L224.4,468.3 L225.7,468.2 L227.0,468.5 L228.4,468.7 L229.7,467.2 L231.0,467.8 L232.4,466.9 L233.7,467.1 L235.0,467.0 L236.4,466.9 L238.0,467.2 L239.7,467.8 L241.3,466.4 L242.2,468.6 L243.0,469.5 L243.9,470.2 L244.7,470.9 L245.6,472.1 L246.4,473.9 L247.3,477.5 L248.1,479.5 L249.0,480.1 L250.5,480.8 L252.0,481.8 L253.5,481.7 L254.9,479.4 L256.4,478.6 L257.9,479.4 L259.4,482.2 L260.9,480.6 L262.4,481.6 L263.9,480.9 L265.4,481.0 L266.9,482.4 L268.0,482.6 L269.1,483.4 L270.3,486.1 L270.5,482.1 L270.7,480.1 L270.9,477.8 L271.2,476.0 L271.4,475.1 L272.5,473.1 L273.6,472.8 L275.1,472.8 L276.6,474.1 L278.1,475.3 L279.6,475.4 L281.1,476.7 L282.6,476.2 L284.1,478.4 L285.6,477.6 L287.1,478.6 L288.0,480.9 L288.9,483.4 L289.8,484.2 L290.7,486.0 L291.6,486.7 L292.7,488.7 L293.8,489.7 L294.9,490.0 L296.1,489.2 L297.2,488.8 L298.3,486.7 L299.8,487.5 L301.3,487.0 L302.8,488.3 L304.3,486.9 L305.8,488.6 L307.3,489.0 L308.0,490.2 L308.8,492.2 L309.5,494.5 L310.3,492.6 L311.0,490.0 L311.7,488.1 L313.2,487.2 L314.7,487.9 L316.2,488.6 L317.7,490.0 L319.2,490.8 L320.7,491.3 L322.4,491.8 L324.1,489.2 L324.8,488.3 L325.6,485.0 L326.3,484.2 L327.4,483.2 L328.6,482.9 L329.7,479.6 L331.2,479.4 L332.7,477.7 L334.2,479.4 L335.3,478.8 L336.4,476.6 L337.5,476.3 L338.7,475.1 L340.3,474.9 L342.0,474.2 L343.7,474.3 L345.4,474.7 L346.5,472.4 L347.6,472.5 L348.7,472.3 L349.9,470.6 L351.4,470.7 L352.9,471.8 L354.3,469.6 L355.8,470.2 L357.3,470.7 L358.8,470.5 L360.0,471.2 L361.1,474.9 L362.2,475.5 L362.9,478.1 L363.7,478.2 L364.4,479.8 L366.1,479.7 L367.8,478.9 L369.5,478.5 L371.2,479.0 L371.9,480.6 L372.7,483.7 L373.4,484.4 L373.5,487.7 L373.6,487.9 L373.7,491.7 L373.8,494.3 L373.8,494.9 L373.9,496.9 L374.0,500.7 L374.1,504.5 L374.2,506.1 L374.3,507.5 L374.4,508.3 L374.4,510.4 L374.5,513.0 L375.3,510.7 L376.0,508.8 L376.8,507.0 L377.3,504.1 L377.9,501.9 L378.5,499.0 L379.0,497.5 L380.1,499.7 L381.3,499.7 L382.0,498.1 L382.8,497.5 L383.5,495.1 L385.0,493.9 L386.5,495.1 L388.0,493.0 L389.5,495.3 L391.0,496.1 L392.5,496.0 L393.6,495.5 L394.7,493.9 L395.8,491.9 L397.0,490.9 L398.4,491.6 L399.9,490.2 L401.4,492.0 L402.9,492.3 L404.4,490.6 L405.9,488.3 L406.7,487.1 L407.4,483.6 L408.2,481.7 L408.9,479.7 L409.7,480.2 L410.4,477.2 L411.9,477.0 L413.4,475.8 L414.9,475.7 L415.6,473.3 L416.4,472.3 L417.1,470.8 L417.9,473.6 L418.6,474.6 L419.4,475.4 L421.1,473.7 L422.7,473.2 L423.9,474.9 L425.0,476.3 L426.1,477.0 L427.6,478.3 L429.1,478.0 L430.6,473.2 L432.1,472.0 L433.6,470.7 L435.1,470.6 L436.2,472.9 L437.3,474.2 L439.0,472.1 L440.7,472.1 L442.4,474.2 L444.0,473.3 L445.7,474.0 L447.4,474.4 L448.9,474.9 L450.4,472.3 L451.9,472.9 L453.3,474.0 L454.7,476.8 L456.1,475.9 L457.5,475.5 L458.8,477.3 L460.2,476.2 L461.5,475.9 L462.9,475.0 L464.2,475.4 L465.6,475.2 L466.9,473.1 L468.3,474.0 L469.6,474.2 L470.9,474.1 L472.1,472.2 L473.2,470.7 L474.3,471.2 L475.1,469.4 L475.8,466.8 L476.5,466.4 L477.7,466.9 L478.8,464.3 L480.2,463.0 L481.6,462.4 L483.0,461.1 L484.3,460.6 L485.8,460.4 L487.2,461.1 L488.7,461.5 L490.3,460.8 L491.9,460.4 L493.6,462.2 L495.2,462.0 L496.7,462.2 L498.1,462.1 L499.5,461.4 L501.2,461.7 L502.8,459.9 L503.3,460.2 L503.9,463.6 L504.4,466.6 L505.0,468.1 L506.6,470.2 L508.2,469.3 L509.7,470.9 L511.1,468.6 L512.6,466.5 L514.2,465.4 L515.8,465.6 L517.5,466.5 L519.1,467.8 L520.5,467.7 L522.0,466.5 L523.4,466.8 L524.9,466.6 L526.3,466.2 L527.8,466.0 L529.2,466.3 L530.7,465.7 L532.1,463.5 L533.6,463.1 L535.0,461.8 L536.5,461.3 L537.6,460.4 L538.6,459.2 L539.7,456.3 L541.4,455.8 L543.0,454.0 L544.4,453.8 L545.9,452.2 L547.3,451.3 L548.4,449.9 L549.5,448.8 L550.6,447.3 L552.0,447.9 L553.5,445.1 L554.9,445.0 L556.0,442.8 L557.1,442.5 L558.2,441.9 L559.3,439.5 L560.4,437.9 L561.4,435.8 L562.5,432.2 L563.6,433.2 L564.7,432.9 L566.3,432.2 L568.0,432.1 L569.0,435.3 L570.1,434.3 L571.2,432.8 L572.3,429.6 L573.4,429.4 L574.5,432.5 L576.6,433.7 L577.7,433.2 L578.8,432.4 L579.6,430.4 L580.4,428.4 L581.3,427.4 L582.1,425.5 L582.8,425.4 L583.5,421.7 L584.2,419.8 L585.3,419.3 L586.4,416.9 L587.5,416.6 L588.6,414.2 L589.7,412.5 L590.8,409.6 L591.8,408.1 L592.6,406.1 L593.3,402.6 L594.0,401.5 L595.1,399.4 L596.2,397.4 L596.6,394.5 L597.1,393.2 L597.5,391.6 L597.9,391.5 L598.4,387.7 L600.5,388.8 L601.3,391.6 L602.0,391.9 L602.7,394.9 L603.8,393.8 L604.9,391.9 L605.7,393.9 L606.5,396.2 L607.3,397.5 L608.1,399.6 L609.2,402.1 L610.3,401.2 L611.4,402.8 L612.5,402.5 L613.6,402.1 L614.6,400.4 L615.7,399.2 L616.8,397.7 L617.9,395.4 L618.6,394.0 L619.2,393.2 L619.9,389.7 L620.5,388.0 L621.2,386.4 L621.7,384.9 L622.3,382.2 L622.8,380.7 L623.3,378.5 L625.0,374.9 L626.6,376.6 L627.7,376.1 L628.8,374.6 L629.9,371.4 L630.6,370.5 L631.3,368.4 L632.0,365.9 L632.6,369.4 L633.1,372.8 L633.7,372.9 L634.2,373.7 L635.3,376.4 L636.4,377.1 L637.5,379.0 L638.5,376.5 L639.6,373.9 L640.7,373.4 L641.8,372.0 L642.9,369.7 L644.0,369.1 L644.8,367.4 L645.6,365.4 L646.4,364.7 L647.2,362.8 L648.3,364.3 L649.4,365.5 L650.5,366.4 L652.1,366.0 L653.7,365.3 L654.5,368.0 L655.2,370.7 L655.9,371.0 L657.0,370.4 L658.1,369.0 L659.2,366.3 L660.8,365.8 L662.4,364.1 L664.1,366.7 L665.7,366.3 L666.8,365.4 L667.9,364.0 L668.9,363.1 L670.0,360.4 L671.1,359.0 L672.2,360.3 L673.3,362.6 L674.1,363.3 L674.9,365.7 L675.7,368.3 L676.5,369.5 L677.3,371.5 L678.0,371.9 L678.7,374.2 L679.5,371.0 L680.3,371.2 L681.2,368.6 L682.0,367.6 L683.6,367.9 L685.2,366.4 L686.9,365.1 L688.5,364.7 L689.6,366.1 L690.7,368.8 L691.7,368.9 L692.5,370.6 L693.2,373.5 L693.9,375.7 L694.5,376.1 L695.1,378.6 L695.7,381.2 L696.2,383.9 L696.8,386.4 L697.4,387.6 L698.6,387.8 L699.8,390.4 L701.1,392.6 L702.3,391.1 L703.5,389.9 L704.8,389.4 L706.0,390.3 L707.2,393.9 L708.5,395.2 L709.7,392.8 L710.9,392.3 L712.1,390.4 L714.0,392.8 L715.8,391.5 L717.1,393.0 L718.3,392.8 L719.5,393.6 L720.1,396.0 L720.8,398.5 L721.4,400.6 L722.0,401.7 L722.9,399.8 L723.8,396.5 L724.8,394.6 L725.7,394.7 L727.5,392.7 L729.4,393.5 L730.6,393.8 L731.8,395.6 L733.1,396.3 L734.3,396.5 L735.5,397.6 L736.8,397.9 L738.0,401.3 L739.2,400.6 L740.4,403.0 L741.7,404.3 L742.9,405.3 L743.4,404.6 L744.0,401.6 L744.5,399.5 L745.0,398.1 L745.5,394.7 L746.1,393.1 L746.6,392.5 L747.5,391.7 L748.4,390.8 L749.4,388.8 L750.3,386.1 L751.5,386.2 L752.8,388.8 L754.0,387.8 L754.7,387.5 L755.5,385.9 L756.2,383.7 L756.9,381.5 L757.7,378.7 L759.5,379.2 L761.4,377.6 L762.6,377.9 L763.8,376.3 L765.1,375.3 L766.9,374.7 L768.7,373.9 L770.6,373.1 L772.4,375.0 L773.7,373.5 L774.9,372.2 L776.1,372.5 L777.4,370.3 L778.6,370.3 L779.5,372.0 L780.4,373.5 L781.4,377.0 L782.3,378.2 L783.9,375.8 L785.6,375.0 L787.2,376.2 L788.0,378.7 L788.8,381.5 L789.7,382.6 L790.9,384.8 L792.1,384.5 L793.4,386.2 L794.3,383.7 L795.2,379.8 L796.1,379.3 L797.0,379.2 L797.7,377.6 L798.3,376.8 L798.9,373.5 L799.5,371.3 L800.7,370.0 L802.0,368.1 L803.2,367.8 L804.4,368.0 L805.7,365.2 L806.9,363.2 L808.1,362.0 L809.4,360.4 L810.6,358.0 L811.8,358.5 L813.0,359.9 L814.3,362.4 L816.1,361.8 L818.0,360.4 L819.8,357.6 L821.7,359.3 L822.9,359.1 L824.1,359.4 L825.3,357.6 L826.6,357.5 L827.8,357.9 L829.0,359.2 L830.3,360.0 L831.5,360.6 L832.7,362.1 L834.0,362.6 L835.2,361.6 L836.4,364.0 L837.7,365.0 L838.9,366.0 L840.1,366.5 L841.3,367.3 L842.6,369.0 L843.8,368.9 L845.0,372.1 L846.3,373.0 L848.1,374.2 L850.0,374.3 L851.2,375.1 L852.4,375.5 L853.6,376.5 L854.9,376.6 L856.1,375.3 L857.3,374.7 L858.6,372.7 L860.4,373.2 L862.3,373.9 L863.5,372.3 L864.7,373.8 L866.0,377.7 L867.2,378.2 L868.4,379.0 L869.6,381.1 L870.9,382.5 L872.1,384.8 L873.3,384.2 L875.2,386.0 L877.0,385.9 L877.8,388.8 L878.5,388.7 L879.2,388.4 L880.0,391.0 L880.7,393.8 L882.6,393.4 L884.4,392.7 L885.6,392.2 L886.9,390.5 L888.1,390.3 L889.3,389.6 L890.6,386.5 L891.8,385.7 L893.0,386.9 L894.3,385.4 L895.5,382.8 L896.4,382.8 L897.3,385.4 L898.2,389.1 L899.2,390.7 L900.4,390.8 L901.6,389.5 L902.9,387.9 L904.5,386.6 L906.1,387.9 L907.0,385.4 L907.9,382.4 L908.8,381.2 L909.8,380.2 L910.4,381.9 L911.0,384.4 L911.6,386.9 L912.2,389.6 L913.5,389.6 L914.7,386.4 L915.9,390.2 L917.1,390.8 L918.4,389.8 L919.6,390.0 L920.8,387.5 L922.1,386.2 L923.3,385.2 L924.5,384.7 L925.8,383.9 L926.7,383.9 L927.7,383.2 L928.7,381.3 L929.7,379.4 L930.7,377.3 L931.9,378.8 L933.1,379.2 L934.4,379.5 L935.6,379.6 L936.8,382.1 L938.1,384.4 L939.3,385.0 L940.5,385.5 L941.8,386.4 L943.0,387.1 L944.6,385.7 L946.3,385.8 L947.9,386.1 L949.1,385.2 L950.4,385.4 L951.6,386.8 L952.8,389.1 L954.5,388.5 L956.1,389.2 L957.8,389.3 L958.4,391.1 L959.0,395.5 L959.6,398.2 L960.2,398.3 L960.8,399.5 L961.4,401.8 L962.1,403.5 L962.7,405.6 L963.9,405.2 L965.1,404.2 L966.4,402.8 L967.6,402.9 L968.8,405.8 L970.1,405.5 L971.9,404.5 L973.7,404.3 L975.0,402.6 L976.2,400.8 L977.4,401.5 L979.3,402.4 L981.1,403.4 L982.4,404.3 L983.6,404.1 L984.2,407.3 L984.8,409.7 L985.4,411.6 L986.1,413.3 L986.5,415.0 L987.0,416.6 L987.5,417.2 L988.0,419.5 L988.5,422.3 L989.1,423.1 L989.7,426.4 L990.4,428.2 L991.0,429.8 L992.2,429.2 L993.4,428.0 L994.7,426.1 L995.9,426.8 L997.1,426.8 L998.4,428.8 L1000.2,429.9 L1002.0,429.8 L1003.3,427.7 L1004.5,426.7 L1005.7,425.3 L1006.6,425.9 L1007.4,429.0 L1008.2,430.2 L1009.4,426.8 L1010.7,424.0 L1011.9,424.6 L1013.1,422.9 L1014.4,421.1 L1015.6,420.2 L1016.8,421.2 L1018.0,421.5 L1019.3,422.7 L1020.5,421.5 L1021.7,418.3 L1023.0,418.1 L1024.8,417.8 L1026.7,420.2 L1027.9,420.1 L1029.1,419.9 L1030.3,417.9 L1032.0,417.3 L1033.6,416.9 L1035.3,417.4 L1035.9,417.6 L1036.5,419.2 L1037.1,420.9 L1037.7,425.0 L1039.0,425.7 L1040.2,425.5 L1041.4,424.2 L1042.7,427.0 L1044.5,426.3 L1046.3,427.7 L1047.6,428.4 L1048.8,426.5 L1050.0,430.4 L1051.0,429.1 L1051.9,427.9 L1052.8,426.2 L1053.7,423.8 L1054.6,425.5 L1055.6,426.4 L1056.5,429.4 L1057.4,430.3 L1059.1,429.6 L1060.7,430.3 L1062.3,431.2 L1064.0,431.6 L1065.6,429.7 L1067.3,430.2 L1068.5,430.3 L1069.7,429.4 L1071.0,428.7 L1072.2,427.4 L1073.4,427.6 L1074.6,429.5 L1075.9,429.7 L1077.1,431.4 L1078.7,431.5 L1080.4,430.5 L1082.0,430.2 L1083.3,430.4 L1084.5,429.1 L1085.7,428.9 L1086.9,427.6 L1088.6,427.3 L1090.2,425.9 L1091.9,426.1 L1093.7,426.5 L1095.6,425.2 L1095.9,428.0 L1096.3,430.7 L1096.6,431.6 L1097.0,434.6 L1097.3,434.9 L1097.7,437.8 L1098.0,439.4 L1099.9,439.2 L1101.7,439.8 L1103.4,438.8 L1105.0,439.9 L1106.6,440.9" stroke="#2e9a47" stroke-width="1.7"/>
<path class="ln" d="M35.4,526.5 L37.1,524.7 L38.7,523.7 L39.5,520.6 L40.3,519.8 L41.1,516.3 L41.9,517.8 L42.8,515.9 L43.6,514.5 L44.4,512.3 L45.2,510.4 L45.9,512.1 L46.6,514.5 L47.4,515.9 L48.1,518.5 L48.8,519.4 L49.5,521.4 L50.6,520.1 L51.7,518.0 L52.8,519.6 L53.9,521.4 L55.0,520.9 L56.1,520.0 L57.1,518.1 L58.2,515.5 L59.9,517.1 L61.5,517.1 L63.1,518.0 L64.7,517.6 L66.4,517.1 L68.0,517.5 L68.7,516.9 L69.3,513.9 L70.0,512.9 L70.6,508.9 L71.3,508.8 L73.4,508.2 L74.9,507.1 L76.3,504.3 L77.8,504.4 L79.4,505.5 L81.0,506.8 L82.1,507.8 L83.2,509.5 L84.3,511.2 L86.5,512.0 L87.5,515.5 L89.2,516.7 L90.8,517.0 L92.3,515.3 L93.7,514.3 L95.1,513.8 L96.8,514.2 L98.4,515.7 L99.5,517.2 L100.6,519.9 L101.7,521.2 L103.1,522.0 L104.6,522.0 L106.0,520.2 L107.5,521.6 L108.9,521.7 L110.3,522.4 L111.8,523.0 L113.2,522.1 L114.7,523.0 L116.3,522.9 L117.9,521.3 L119.0,520.0 L120.1,517.2 L121.2,515.2 L122.8,516.1 L124.5,517.7 L125.8,516.9 L127.2,517.9 L128.5,519.7 L129.8,519.8 L131.2,520.2 L132.5,520.8 L133.8,521.3 L135.2,522.0 L136.5,521.4 L137.8,521.2 L139.2,519.4 L140.5,518.4 L141.8,518.8 L143.2,519.4 L144.5,517.7 L145.8,516.6 L147.2,517.6 L148.5,517.0 L149.8,516.0 L151.1,513.2 L152.5,514.7 L153.8,513.7 L155.1,511.4 L156.5,512.3 L157.8,510.9 L159.1,511.5 L160.5,511.7 L161.8,510.6 L163.1,508.2 L164.4,507.0 L165.6,506.6 L166.9,506.7 L168.1,504.9 L169.8,505.1 L171.5,505.3 L173.1,506.6 L174.8,507.2 L176.4,509.5 L178.1,508.3 L179.8,506.2 L181.4,506.2 L183.1,507.4 L184.4,507.0 L185.8,509.0 L187.1,508.3 L188.4,509.4 L189.8,510.2 L191.0,512.1 L192.3,512.8 L193.5,513.8 L194.8,513.6 L195.6,515.3 L196.4,517.2 L197.2,518.0 L198.1,519.4 L199.2,521.0 L200.3,522.5 L201.4,524.8 L202.7,522.5 L203.9,522.9 L205.2,522.5 L206.4,521.4 L207.7,520.5 L209.1,519.5 L210.4,519.5 L211.7,519.7 L213.1,519.5 L214.4,519.9 L215.7,519.0 L217.0,520.2 L218.4,519.5 L219.7,519.8 L221.0,519.2 L222.4,521.4 L223.7,518.1 L225.0,519.6 L226.4,518.4 L227.7,519.6 L229.0,517.1 L230.4,516.4 L231.7,514.5 L233.0,516.0 L234.4,514.7 L235.7,514.3 L237.0,513.5 L238.4,512.1 L239.7,512.8 L240.8,512.9 L242.0,511.8 L243.2,509.7 L244.3,509.1 L245.5,508.4 L246.6,506.1 L247.8,504.7 L249.0,504.5 L249.6,503.3 L250.3,500.0 L251.0,498.2 L251.7,495.8 L252.3,495.5 L252.9,493.4 L253.5,490.8 L254.0,488.0 L254.6,487.8 L255.7,489.9 L256.8,491.3 L257.4,493.5 L257.9,496.7 L258.5,498.5 L259.1,499.9 L260.2,498.9 L261.3,497.7 L263.0,499.7 L264.7,500.3 L266.2,497.7 L267.7,497.7 L269.1,497.2 L270.3,496.0 L271.4,495.8 L272.5,494.6 L273.6,493.1 L274.8,492.6 L275.9,491.4 L277.0,489.2 L278.1,488.8 L279.2,488.2 L280.4,486.6 L281.5,484.5 L282.2,482.5 L283.0,480.3 L283.7,478.6 L284.8,478.7 L286.0,481.0 L288.2,480.0 L289.3,482.7 L290.4,482.1 L292.1,482.4 L293.8,479.4 L294.9,480.2 L296.1,482.6 L297.2,483.4 L298.3,484.0 L299.4,483.6 L300.5,482.0 L301.7,481.3 L302.8,479.8 L304.5,480.8 L306.1,482.0 L306.9,481.2 L307.6,481.9 L308.4,486.6 L310.1,486.3 L311.7,487.4 L313.2,487.5 L314.7,488.9 L316.2,487.0 L317.7,489.0 L319.2,489.5 L320.7,489.6 L322.2,487.9 L323.7,489.0 L325.2,490.6 L326.3,490.9 L327.4,489.6 L328.6,487.8 L329.7,486.2 L331.2,486.1 L332.7,485.1 L334.2,484.6 L335.7,486.1 L337.2,485.0 L338.7,482.4 L340.1,484.1 L341.6,485.4 L343.1,484.3 L344.6,485.2 L346.1,485.5 L347.6,486.3 L349.1,487.0 L350.6,485.5 L352.1,484.4 L353.6,486.1 L355.1,485.6 L356.6,485.8 L358.1,485.5 L359.6,485.4 L361.1,484.2 L362.6,483.9 L364.1,485.1 L365.6,483.3 L367.1,484.1 L368.6,485.3 L370.0,484.5 L371.5,484.9 L373.0,483.0 L374.5,483.3 L376.0,485.0 L377.5,484.5 L379.0,482.3 L380.5,482.4 L382.0,479.1 L383.5,479.5 L385.0,478.8 L386.5,480.3 L388.0,481.1 L389.5,480.9 L391.0,480.0 L392.5,479.8 L394.0,479.0 L395.5,479.7 L397.0,480.5 L398.4,479.6 L399.9,481.9 L401.4,480.1 L402.9,480.1 L404.4,478.8 L405.9,480.7 L406.7,477.9 L407.4,477.4 L408.2,475.9 L409.3,475.3 L410.4,472.9 L411.5,470.6 L412.6,468.2 L413.8,468.3 L414.9,466.4 L416.0,464.4 L417.1,462.3 L418.3,461.6 L419.0,461.1 L419.7,457.8 L420.5,454.9 L421.2,453.3 L422.0,449.4 L422.7,448.8 L425.0,450.4 L425.4,452.8 L425.7,455.0 L426.1,458.2 L426.5,457.8 L426.8,460.7 L427.2,462.8 L428.3,460.8 L429.5,459.2 L431.1,458.2 L432.8,457.8 L434.3,459.3 L435.8,459.7 L437.3,459.6 L438.8,459.7 L440.3,458.0 L441.8,458.5 L443.3,456.2 L444.8,456.4 L446.3,456.9 L447.8,456.3 L449.3,456.0 L450.8,456.0 L452.3,456.0 L453.8,456.2 L455.2,456.9 L455.7,458.8 L456.1,461.8 L456.6,463.8 L457.0,466.0 L457.5,468.7 L458.2,466.5 L459.0,465.1 L459.7,464.5 L461.2,465.1 L462.7,466.4 L464.2,465.2 L465.7,465.7 L467.2,464.3 L468.7,465.0 L470.2,465.5 L471.7,465.9 L473.2,465.7 L474.7,465.6 L476.2,464.7 L477.7,464.0 L479.3,463.2 L481.0,461.6 L482.7,461.1 L484.3,461.1 L485.6,461.1 L486.9,460.7 L488.3,462.0 L489.6,462.3 L490.9,462.4 L492.2,462.5 L493.5,461.4 L494.8,462.2 L496.1,462.0 L497.4,462.6 L498.7,464.0 L500.0,463.8 L501.3,462.6 L502.6,461.5 L503.9,461.5 L505.3,460.2 L506.8,462.2 L508.2,460.3 L509.7,460.1 L511.1,461.0 L512.6,459.8 L513.9,460.5 L515.3,459.1 L516.6,458.3 L518.0,458.1 L519.5,455.9 L520.9,455.4 L522.3,454.4 L523.4,451.4 L524.5,450.1 L525.6,450.5 L526.7,452.5 L527.8,451.2 L528.9,453.6 L530.3,452.2 L531.8,452.4 L533.2,451.3 L534.7,449.8 L536.1,450.6 L537.6,449.7 L538.9,448.5 L540.3,449.4 L541.6,451.0 L543.0,450.6 L544.4,449.8 L545.9,449.7 L547.3,449.0 L548.8,446.2 L550.2,446.0 L551.7,447.8 L553.1,447.7 L554.6,448.7 L556.0,447.4 L557.5,448.1 L558.9,447.2 L560.4,446.1 L561.4,446.5 L562.5,445.2 L563.6,443.1 L564.7,441.0 L565.8,438.2 L566.9,438.5 L568.0,437.6 L569.0,436.8 L570.1,434.5 L571.2,431.8 L572.3,430.6 L572.8,427.4 L573.4,425.8 L573.6,427.4 L573.8,429.4 L574.0,430.2 L574.3,433.2 L574.5,436.3 L575.6,436.4 L576.6,438.5 L577.2,439.4 L577.7,441.1 L578.3,443.7 L578.8,446.0 L579.9,443.7 L581.0,441.9 L582.6,440.8 L584.2,440.3 L585.9,440.3 L587.5,438.6 L589.1,437.1 L590.8,437.6 L591.8,435.1 L592.9,434.3 L594.4,432.6 L595.8,432.3 L597.3,430.4 L598.7,429.0 L600.2,431.3 L601.6,432.4 L602.7,431.3 L603.8,430.1 L604.9,428.7 L606.0,428.8 L607.0,428.3 L608.1,425.9 L609.8,424.5 L611.4,423.4 L612.5,421.9 L613.6,422.2 L614.6,419.8 L615.7,417.7 L616.8,417.1 L617.9,416.8 L619.0,417.0 L620.1,421.1 L621.2,423.9 L622.3,425.4 L623.0,421.8 L623.7,422.0 L624.4,419.2 L625.5,419.3 L626.6,420.7 L626.9,423.1 L627.1,426.1 L627.4,426.7 L627.7,429.3 L628.8,428.6 L629.9,433.0 L630.9,432.5 L632.0,435.9 L633.1,433.7 L634.2,432.0 L635.3,431.0 L636.4,430.7 L637.5,427.8 L638.5,427.5 L640.2,425.5 L641.8,425.2 L642.9,424.3 L644.0,424.2 L645.1,422.6 L646.7,422.8 L648.3,422.5 L649.9,422.7 L651.6,420.6 L653.0,421.3 L654.5,418.8 L655.9,417.0 L657.0,414.3 L658.1,413.6 L659.2,412.3 L660.3,410.0 L661.3,408.9 L662.4,407.0 L663.5,405.9 L664.6,403.9 L665.7,402.0 L666.8,399.3 L667.9,397.2 L669.5,397.4 L671.1,399.1 L671.8,397.4 L672.6,395.7 L673.3,393.4 L674.4,390.7 L675.5,389.2 L676.0,387.9 L676.5,384.9 L677.1,383.4 L677.6,381.1 L678.4,383.8 L679.1,384.7 L679.8,386.6 L680.9,384.7 L682.0,384.0 L682.8,382.2 L683.6,379.3 L684.4,377.5 L685.2,376.7 L686.0,375.9 L686.9,372.2 L687.7,371.3 L688.5,370.2 L689.6,371.8 L690.7,372.7 L691.7,374.8 L692.8,375.1 L693.9,376.8 L695.0,377.5 L696.1,376.6 L697.2,374.2 L698.5,375.6 L699.8,374.6 L701.1,376.7 L702.3,375.9 L703.5,376.9 L705.4,376.9 L707.2,375.7 L708.5,378.3 L709.7,379.6 L710.9,379.8 L712.1,381.2 L713.4,380.6 L714.0,383.0 L714.6,385.3 L715.2,385.3 L715.8,387.8 L716.5,385.9 L717.1,382.9 L717.5,380.2 L717.9,378.3 L718.3,375.3 L718.7,373.1 L719.1,371.5 L719.5,369.8 L720.8,369.7 L722.0,372.1 L723.2,373.1 L724.5,372.3 L725.7,371.4 L726.9,370.5 L727.8,369.2 L728.8,366.5 L729.7,363.6 L730.6,362.7 L731.8,360.0 L733.1,359.6 L734.3,357.7 L735.0,355.2 L735.8,353.4 L736.5,352.4 L737.2,352.0 L738.0,348.7 L739.2,348.4 L740.4,345.2 L742.3,345.8 L744.1,345.7 L745.4,344.7 L746.6,342.6 L747.8,342.0 L749.1,340.7 L750.3,341.2 L751.5,337.2 L752.8,340.2 L754.0,340.8 L755.2,342.3 L756.4,344.5 L757.7,346.2 L758.9,349.3 L760.1,349.8 L760.4,352.7 L760.7,354.8 L761.0,355.4 L761.3,358.2 L761.6,360.5 L761.9,362.2 L762.3,360.9 L762.8,358.7 L763.3,354.5 L763.8,353.1 L765.7,353.9 L767.5,354.6 L768.4,353.8 L769.4,352.5 L770.3,352.7 L771.2,348.4 L772.4,345.2 L773.7,345.2 L774.9,344.4 L776.1,343.8 L777.4,342.5 L778.6,341.4 L779.3,340.0 L780.1,339.3 L780.8,336.6 L781.5,332.6 L782.3,330.9 L783.5,328.4 L784.7,326.7 L786.0,326.4 L787.2,326.5 L788.4,328.4 L789.7,328.9 L790.9,328.6 L792.1,327.0 L793.4,323.7 L794.6,321.8 L795.8,321.0 L797.0,318.8 L797.8,318.0 L798.6,316.3 L799.4,314.2 L800.2,312.5 L801.2,313.2 L802.2,313.4 L803.2,316.0 L803.8,317.2 L804.4,320.2 L805.0,321.9 L805.7,324.7 L806.0,321.2 L806.4,319.5 L806.7,317.8 L807.1,317.5 L807.4,314.5 L807.8,312.4 L808.1,311.2 L809.1,310.4 L810.1,309.4 L811.1,307.6 L812.1,306.4 L813.0,305.3 L813.8,304.2 L814.5,301.9 L815.3,299.9 L816.0,297.5 L816.7,296.3 L817.7,293.2 L818.6,291.9 L819.5,291.4 L820.4,289.7 L821.2,287.6 L822.1,287.1 L822.9,284.9 L823.1,283.1 L823.2,280.4 L823.4,276.2 L823.6,274.1 L823.8,271.7 L823.9,269.6 L824.1,268.1 L825.3,265.9 L826.6,264.7 L827.8,262.3 L828.7,259.4 L829.7,257.7 L830.6,255.2 L831.5,254.8 L832.1,257.3 L832.7,261.7 L833.3,262.6 L834.0,262.8 L834.6,265.2 L835.2,266.7 L835.8,269.1 L836.4,270.9 L837.7,269.7 L838.9,268.3 L839.5,268.5 L840.1,271.7 L840.7,273.9 L841.3,276.7 L842.2,274.9 L843.0,272.6 L843.8,270.9 L844.4,269.8 L845.0,266.6 L845.6,263.7 L846.3,261.8 L846.9,263.0 L847.5,265.6 L848.1,268.5 L848.7,269.8 L850.0,273.8 L851.2,273.6 L852.4,275.3 L853.6,276.8 L854.0,279.1 L854.3,280.2 L854.6,279.9 L854.9,284.9 L856.1,284.5 L857.3,283.1 L858.6,285.2 L859.8,285.0 L861.0,286.7 L862.3,286.1 L863.5,287.8 L864.1,288.1 L864.7,290.7 L865.3,294.1 L866.0,296.5 L866.4,296.7 L866.9,299.2 L867.4,302.7 L867.9,304.2 L868.4,306.5 L868.7,310.0 L869.0,312.1 L869.3,313.4 L869.6,315.1 L870.1,314.4 L870.6,312.4 L871.1,310.4 L871.6,307.4 L872.1,305.5 L873.3,303.1 L874.6,301.5 L875.8,300.5 L876.3,299.9 L876.8,295.7 L877.3,294.0 L877.8,294.0 L878.3,291.1 L879.5,289.0 L880.7,288.2 L881.6,287.9 L882.6,290.1 L883.5,293.8 L884.4,295.4 L885.1,293.6 L885.9,292.0 L886.6,290.7 L887.4,289.1 L888.1,287.0 L889.3,285.1 L890.6,284.6 L891.0,287.8 L891.4,289.6 L891.8,291.5 L892.2,291.2 L892.6,295.0 L893.0,296.6 L894.3,299.1 L895.5,300.2 L896.7,301.6 L897.5,303.6 L898.4,306.2 L899.2,307.8 L900.0,307.0 L900.8,304.1 L901.6,302.9 L903.1,302.7 L904.6,303.2 L906.1,303.4 L906.7,305.7 L907.3,308.4 L907.9,309.3 L908.5,312.0 L909.8,314.1 L911.0,315.1 L912.2,317.1 L913.5,317.3 L914.7,315.6 L915.9,314.2 L917.1,313.2 L917.8,311.1 L918.4,308.2 L919.6,305.1 L920.8,305.3 L922.1,304.6 L923.3,302.5 L924.5,300.7 L925.4,300.3 L926.2,298.2 L927.0,295.8 L928.2,296.1 L929.5,298.1 L930.7,298.4 L931.9,295.8 L933.1,296.5 L934.4,294.7 L935.6,295.1 L936.8,295.6 L938.1,298.4 L938.9,301.0 L939.7,301.3 L940.5,303.3 L942.4,303.7 L944.2,304.8 L945.4,304.5 L946.7,307.1 L947.9,308.6 L949.1,310.5 L950.4,310.3 L951.6,312.9 L952.8,310.4 L954.1,313.4 L955.3,310.9 L956.9,311.0 L958.6,310.2 L960.2,311.0 L961.0,314.0 L961.9,315.3 L962.7,316.8 L963.9,318.0 L965.1,318.8 L966.4,319.4 L968.2,319.0 L970.1,318.1 L971.0,319.4 L971.9,319.4 L972.8,321.8 L973.7,324.1 L975.0,322.6 L976.2,321.6 L977.4,320.7 L978.7,320.5 L979.9,318.5 L981.1,318.1 L983.6,318.3 L984.8,320.5 L986.1,320.9 L987.3,321.7 L987.9,319.4 L988.5,317.1 L989.1,316.1 L989.7,314.0 L991.0,311.0 L992.2,310.5 L993.0,308.1 L993.8,306.9 L994.7,305.0 L995.9,306.2 L997.1,306.6 L998.4,306.8 L999.3,306.4 L1000.2,309.5 L1001.1,311.7 L1002.0,314.6 L1003.0,317.3 L1003.9,317.2 L1004.8,319.4 L1005.7,320.9 L1007.6,320.5 L1009.4,320.5 L1011.3,320.1 L1013.1,318.9 L1015.0,319.1 L1016.8,318.3 L1018.0,318.2 L1019.3,316.4 L1020.5,315.0 L1022.1,315.0 L1023.8,314.4 L1025.4,313.4 L1026.2,315.2 L1026.9,316.5 L1027.6,318.1 L1028.4,320.2 L1029.1,321.7 L1031.0,320.6 L1032.8,320.1 L1034.0,319.6 L1035.3,317.5 L1036.5,317.8 L1038.3,317.7 L1040.2,317.9 L1042.0,318.2 L1043.9,319.5 L1045.7,319.3 L1047.6,317.9 L1049.2,318.2 L1050.9,319.4 L1052.5,319.7 L1054.1,320.6 L1055.8,320.1 L1057.4,319.8 L1059.1,318.9 L1060.7,319.1 L1062.3,319.5 L1064.0,319.2 L1065.6,319.6 L1067.3,320.9 L1068.9,321.5 L1070.5,321.6 L1072.2,320.4 L1073.8,322.9 L1075.5,322.4 L1077.1,320.7 L1077.7,324.9 L1078.3,324.2 L1078.9,327.4 L1079.6,328.1 L1080.8,330.4 L1082.0,331.9 L1082.5,334.5 L1083.0,335.0 L1083.5,337.0 L1084.0,339.7 L1084.5,342.8 L1085.1,344.4 L1085.7,344.9 L1086.3,347.3 L1086.9,350.7 L1087.8,349.0 L1088.6,346.6 L1089.4,346.5 L1091.9,346.5 L1092.7,348.5 L1093.5,348.3 L1094.3,352.5 L1095.6,355.4 L1096.8,356.4 L1098.0,358.2 L1099.3,359.0 L1100.5,362.1 L1101.7,362.5" stroke="#497cdc" stroke-width="1.7"/>
<path class="ln" d="M38.7,535.1 L40.9,536.4 L42.5,538.3 L44.1,537.4 L45.2,535.6 L46.3,535.1 L47.9,536.7 L49.5,535.5 L51.2,534.3 L52.8,533.8 L54.2,533.0 L55.5,533.2 L57.1,535.3 L58.8,535.6 L60.4,536.2 L61.8,535.9 L63.3,534.9 L64.7,535.1 L66.2,535.6 L67.6,537.4 L69.1,536.5 L70.5,537.2 L72.0,535.4 L73.4,535.4 L75.1,534.6 L76.7,532.9 L77.1,530.7 L77.4,529.4 L77.8,526.5 L78.9,525.3 L79.9,522.7 L81.0,523.6 L82.1,522.8 L83.2,519.0 L84.3,518.4 L85.4,516.6 L86.8,517.1 L88.3,516.5 L89.7,515.8 L91.3,516.3 L93.0,515.6 L94.4,516.4 L95.9,516.5 L97.3,518.2 L98.9,518.8 L100.6,519.0 L101.7,515.3 L102.7,513.9 L104.9,512.9 L106.5,514.3 L108.2,515.8 L109.6,516.2 L111.1,515.4 L112.5,516.1 L113.6,516.7 L114.7,517.0 L115.8,518.9 L117.9,518.6 L118.7,520.5 L119.4,523.3 L120.1,524.4 L120.7,522.7 L121.2,520.4 L121.7,517.4 L122.3,514.7 L123.2,511.6 L124.2,511.4 L125.1,509.3 L126.1,508.5 L127.0,508.1 L128.0,508.3 L128.9,505.4 L129.8,504.5 L131.2,504.5 L132.5,505.1 L133.8,503.7 L135.2,505.9 L136.5,504.7 L138.2,505.7 L139.8,505.1 L141.5,504.9 L142.6,505.5 L143.7,504.2 L144.8,501.7 L146.5,501.1 L148.2,501.2 L149.3,500.9 L150.4,504.5 L151.5,504.5 L153.1,501.4 L154.8,503.6 L156.5,503.4 L158.1,503.4 L159.8,504.0 L161.5,503.0 L163.1,503.0 L164.8,504.3 L166.5,504.9 L167.8,504.9 L169.1,506.8 L170.5,507.2 L171.8,507.0 L173.1,506.2 L174.4,506.3 L175.8,506.1 L177.1,506.2 L178.4,507.0 L179.8,506.3 L181.1,506.9 L182.4,507.9 L183.8,508.2 L185.1,510.2 L186.4,508.0 L187.8,508.3 L189.1,507.6 L190.4,508.4 L191.8,511.3 L193.1,509.6 L193.8,507.6 L194.4,506.8 L195.1,505.0 L195.7,504.1 L196.4,501.2 L197.7,501.5 L199.1,500.1 L200.4,499.0 L201.7,499.8 L203.1,499.8 L204.4,499.6 L205.7,499.4 L207.1,500.0 L208.4,500.7 L209.7,501.3 L211.1,500.3 L212.4,498.8 L213.7,501.1 L215.1,501.4 L216.4,501.1 L217.7,499.4 L219.0,499.7 L220.4,500.1 L221.7,498.8 L223.0,501.3 L224.4,502.0 L225.7,502.0 L227.0,502.7 L228.4,503.1 L229.7,503.4 L231.0,503.9 L232.4,504.6 L233.7,505.3 L235.0,504.0 L236.4,503.1 L237.5,504.0 L238.6,505.8 L239.7,507.8 L241.3,508.1 L243.0,509.2 L244.7,509.9 L246.1,507.9 L247.5,508.2 L249.0,506.6 L250.5,507.7 L252.0,508.4 L253.5,509.3 L254.9,509.1 L256.4,507.9 L257.9,509.9 L259.4,509.6 L260.9,510.6 L262.4,509.2 L263.9,509.9 L265.4,510.1 L266.9,508.0 L268.4,509.3 L269.9,508.0 L271.4,506.8 L272.9,506.1 L274.4,506.3 L275.9,505.7 L277.4,505.9 L278.9,505.1 L280.4,506.4 L281.5,505.5 L282.6,504.2 L283.7,502.3 L284.8,501.8 L285.6,499.8 L286.3,496.3 L287.1,497.0 L287.8,496.3 L288.6,493.6 L289.3,492.9 L290.8,493.5 L292.3,492.9 L293.8,491.4 L295.3,491.2 L296.8,489.4 L298.3,490.4 L299.8,490.9 L301.3,490.1 L302.8,489.3 L304.3,490.1 L305.8,489.0 L307.3,487.4 L308.8,486.8 L310.3,486.5 L311.7,486.2 L313.2,485.2 L314.7,484.9 L316.2,486.1 L317.4,483.9 L318.5,483.2 L319.6,482.2 L320.3,481.2 L321.1,479.4 L321.8,477.9 L323.3,479.3 L324.8,477.7 L326.3,478.3 L328.0,478.8 L329.7,479.4 L331.2,479.1 L332.7,476.7 L334.2,476.7 L335.7,476.6 L337.2,476.9 L338.7,475.9 L340.1,474.9 L341.6,475.7 L343.1,473.9 L344.8,473.3 L346.5,474.7 L347.6,474.8 L348.7,475.6 L349.9,479.1 L351.4,478.1 L352.9,480.0 L354.3,482.3 L356.0,482.3 L357.7,483.3 L359.4,483.4 L361.1,480.4 L362.6,479.8 L364.1,479.7 L365.6,479.5 L366.7,479.0 L367.8,477.3 L368.9,476.4 L369.8,474.7 L370.6,473.3 L371.4,471.3 L372.3,471.2 L373.4,470.4 L374.5,467.9 L375.7,467.8 L377.1,469.2 L378.6,467.6 L380.1,466.2 L381.0,463.9 L381.8,463.6 L382.7,461.3 L383.5,459.3 L384.3,458.5 L385.2,456.7 L386.0,455.3 L386.9,454.4 L388.5,454.5 L390.2,452.3 L391.3,452.0 L392.5,451.4 L393.6,448.6 L394.7,450.8 L395.8,452.2 L397.0,451.8 L397.7,452.3 L398.4,454.7 L399.2,456.1 L400.0,455.2 L400.9,453.1 L401.7,452.3 L402.6,450.9 L404.1,452.9 L405.5,452.9 L407.0,450.0 L408.7,452.4 L410.4,450.8 L412.1,451.5 L413.8,449.7 L415.4,452.2 L417.1,452.0 L418.3,453.3 L419.4,453.5 L420.5,455.3 L422.2,455.0 L423.9,454.2 L425.4,456.0 L426.8,454.8 L428.3,457.2 L429.8,456.8 L431.3,457.4 L432.8,457.4 L434.3,456.3 L435.8,457.0 L437.3,458.2 L438.8,457.3 L440.3,457.0 L441.8,455.0 L442.6,453.3 L443.5,452.6 L444.3,449.4 L445.2,449.7 L446.7,449.8 L448.1,451.9 L449.6,451.9 L451.1,453.3 L452.6,453.0 L454.1,450.9 L455.8,449.1 L457.5,449.3 L459.0,450.2 L460.5,451.4 L462.0,451.4 L463.5,451.2 L465.0,451.8 L466.5,453.8 L468.0,453.6 L469.4,454.7 L470.9,456.3 L472.4,456.4 L473.9,458.0 L475.4,457.5 L476.5,459.0 L477.7,461.4 L478.8,462.1 L481.0,463.0" stroke="#000" stroke-width="2.1"/>
<g font-size="10.7" text-anchor="middle">
<text x="447.9" y="163.1" font-weight="bold" fill="#111">Performance Since Cycle Low</text>
<line x1="371.6" y1="165.2" x2="524.3" y2="165.2" stroke="#222" stroke-width="1"/>
<text x="447.3" y="177.6" font-style="italic" fill="#e88a8c">2011-2015 = 4094%</text>
<text x="447.5" y="192" font-style="italic" fill="#6c98e4">2015-2018 = 247%</text>
<text x="447.5" y="206.4" font-style="italic" fill="#47b06a">2018-2022 = 245%</text>
<text x="447.5" y="220.2" font-style="italic" fill="#1a1a1a">2022-Present = 250%</text>
</g>
<text x="26" y="656" font-size="12" fill="#7a7a7a" letter-spacing="-0.07">© 2024 Glassnode. All Rights Reserved.</text>
<g fill="none" stroke="#151515" stroke-width="8.2" transform="translate(1075.2,659.8) scale(0.2799) translate(-422.9,-366)">
<circle cx="441.9" cy="347" r="15"/><path d="M460.1,328 V364 A18.2,14.6 0 0 1 441.9,378.6 C435,378.6 429.5,376.5 426,372"/>
<path d="M476.1,313.7 V366"/>
<circle cx="506.8" cy="347" r="15"/><path d="M524.2,328 V366"/>
<path d="M560.2,337.5 C557.5,333.5 553,332 549.5,332 C543.5,332 539.5,335 539.5,339.5 C539.5,344.5 544,346 550,347 C556.5,348 560.6,350.5 560.6,355 C560.6,359.5 556,362 550,362 C545,362 541,359.5 538.8,356"/>
<path d="M592.2,337.5 C589.5,333.5 585,332 581.5,332 C575.5,332 571.5,335 571.5,339.5 C571.5,344.5 576,346 582,347 C588.5,348 592.6,350.5 592.6,355 C592.6,359.5 588,362 582,362 C577,362 573,359.5 570.8,356"/>
<path d="M605.9,328 V366 M605.9,347 C605.9,337 612,332 619.7,332 C627.5,332 633.5,337 633.5,347 V366"/>
<ellipse cx="663.6" cy="347" rx="15.8" ry="15"/>
<circle cx="710.3" cy="347" r="15"/><path d="M726.9,313.7 V366"/>
<path d="M742.8,347 H771.2 A14.5,15 0 1 0 767.5,357"/>
</g>
</svg>
</body></html>
